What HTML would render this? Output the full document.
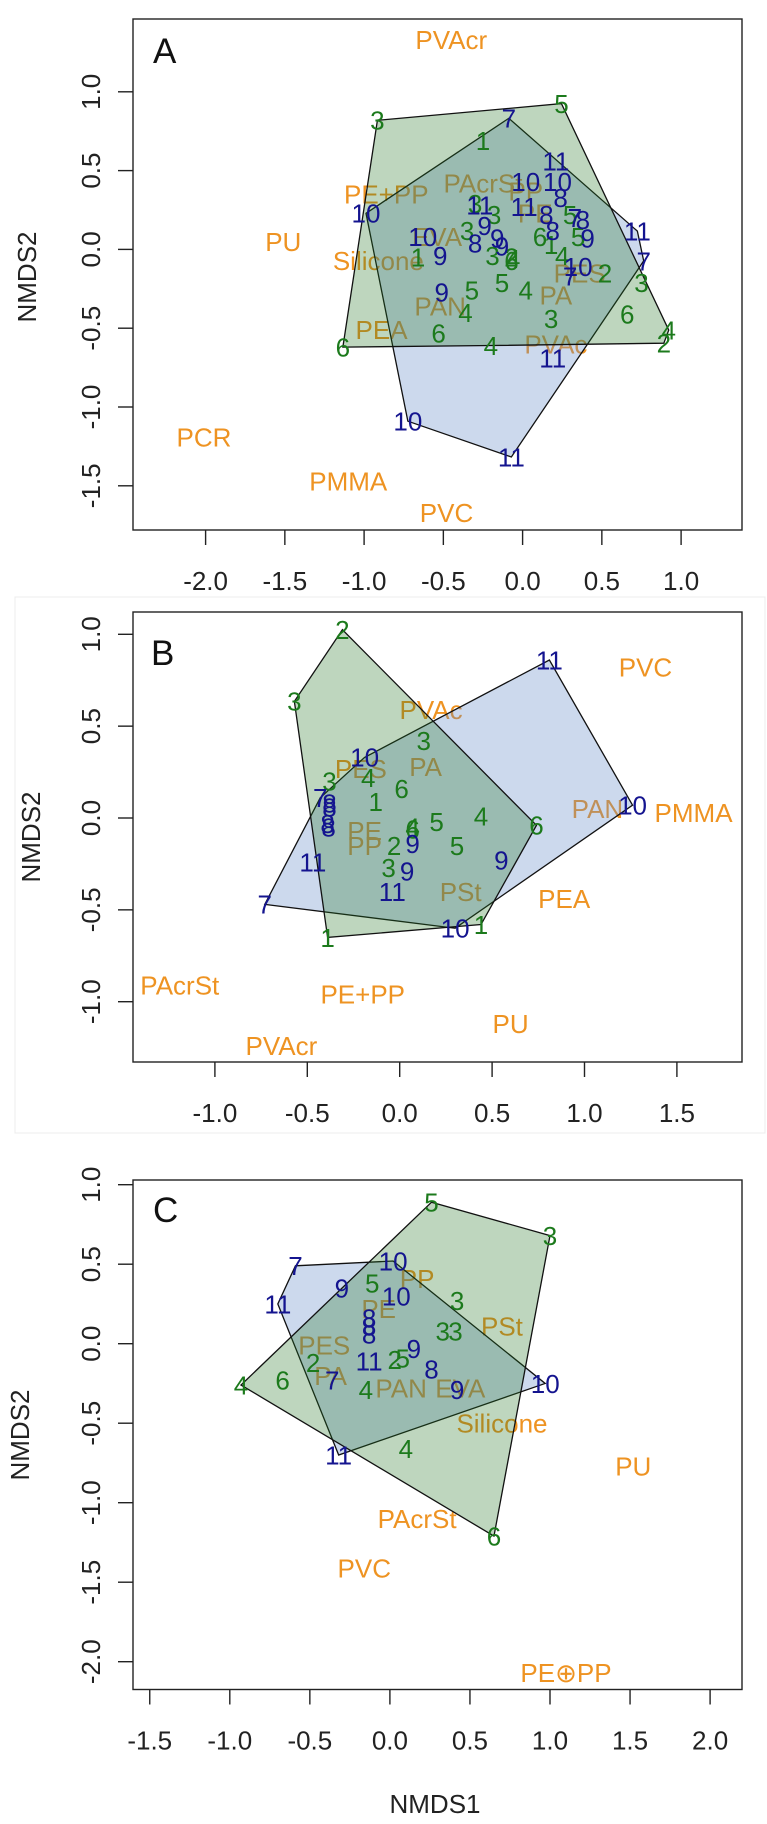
<!DOCTYPE html>
<html><head><meta charset="utf-8"><style>
body{margin:0;background:#fff}
svg text{font-family:"Liberation Sans",Arial,sans-serif}
</style></head><body>
<svg id="chart" xmlns="http://www.w3.org/2000/svg" width="767" height="1819" viewBox="0 0 767 1819">
<rect x="15" y="597" width="750" height="536" fill="none" stroke="#ececec" stroke-width="1"/>
</svg>
<script>
// ---------- Panel A data ----------
const A_xTicks=[-2.0,-1.5,-1.0,-0.5,0.0,0.5,1.0];
const A_yTicks=[-1.5,-1.0,-0.5,0.0,0.5,1.0];
const A_lab=["PVAcr","PE+PP","PAcrSt","PP","PU","Silicone","EVA","PE","PES","PA","PAN","PEA","PVAc","PCR","PMMA","PVC"];
const A_labX=[-0.45,-0.86,-0.25,0.02,-1.51,-0.91,-0.54,0.08,0.36,0.21,-0.52,-0.89,0.21,-2.01,-1.10,-0.48];
const A_labY=[1.33,0.35,0.42,0.37,0.05,-0.07,0.08,0.23,-0.15,-0.29,-0.36,-0.51,-0.60,-1.19,-1.47,-1.67];
const A_gT=["3","5","1","3","3","3","1","3","2","4","6","6","1","4","5","5","2","3","6","4","2","5","5","4","4","3","6","4","6"];
const A_gX=[-0.916,0.245,-0.25,-0.30,-0.18,-0.35,-0.66,-0.19,-0.07,-0.06,-0.07,0.11,0.18,0.25,0.35,0.30,0.52,0.75,0.66,0.922,0.891,-0.32,-0.13,0.02,-0.36,0.18,-0.53,-0.20,-1.134];
const A_gY=[0.819,0.925,0.69,0.29,0.22,0.12,-0.05,-0.04,-0.05,-0.06,-0.07,0.08,0.03,-0.04,0.08,0.22,-0.15,-0.21,-0.41,-0.512,-0.595,-0.26,-0.21,-0.26,-0.40,-0.44,-0.53,-0.61,-0.620];
const A_bT=["7","11","10","10","10","11","11","8","8","8","7","9","9","9","8","9","10","8","9","10","7","11","7","9","11","10","11"];
const A_bX=[-0.087,0.21,0.02,0.22,-0.988,-0.27,0.01,0.15,0.24,0.38,0.33,-0.24,-0.16,-0.13,0.19,0.41,-0.63,-0.30,-0.52,0.35,0.30,0.724,0.764,-0.51,0.19,-0.724,-0.071];
const A_bY=[0.832,0.56,0.43,0.43,0.229,0.28,0.27,0.22,0.33,0.19,0.20,0.15,0.07,0.02,0.12,0.07,0.08,0.04,-0.04,-0.11,-0.17,0.116,-0.073,-0.27,-0.69,-1.090,-1.317];
// ---------- Panel B data ----------
const B_xTicks=[-1.0,-0.5,0.0,0.5,1.0,1.5];
const B_yTicks=[-1.0,-0.5,0.0,0.5,1.0];
const B_lab=["PVC","PVAc","PES","PA","PAN","PMMA","PE","PP","PSt","PEA","PAcrSt","PE+PP","PU","PVAcr"];
const B_labX=[1.33,0.17,-0.21,0.14,1.07,1.59,-0.19,-0.19,0.33,0.89,-1.19,-0.20,0.60,-0.64];
const B_labY=[0.82,0.59,0.27,0.28,0.05,0.03,-0.07,-0.15,-0.40,-0.44,-0.91,-0.96,-1.12,-1.24];
const B_gT=["2","3","3","4","3","6","1","5","4","4","6","2","5","3","6","1","1"];
const B_gX=[-0.31,-0.57,0.13,-0.17,-0.38,0.01,-0.13,0.20,0.44,0.07,0.07,-0.03,0.31,-0.06,0.74,0.44,-0.39];
const B_gY=[1.025,0.635,0.42,0.22,0.20,0.16,0.09,-0.02,0.01,-0.05,-0.06,-0.15,-0.15,-0.27,-0.04,-0.58,-0.65];
const B_bT=["11","10","7","8","8","8","8","9","9","9","11","11","10","7","10"];
const B_bX=[0.81,-0.19,-0.43,-0.38,-0.38,-0.39,-0.385,0.07,0.04,0.55,-0.47,-0.04,0.30,-0.73,1.26];
const B_bY=[0.86,0.33,0.11,0.08,0.06,-0.03,-0.05,-0.14,-0.29,-0.23,-0.24,-0.40,-0.60,-0.47,0.07];
// ---------- Panel C data ----------
const C_xTicks=[-1.5,-1.0,-0.5,0.0,0.5,1.0,1.5,2.0];
const C_yTicks=[-2.0,-1.5,-1.0,-0.5,0.0,0.5,1.0];
const C_lab=["PP","PE","PSt","PES","PA","PAN","EVA","Silicone","PU","PAcrSt","PVC","PE⊕PP"];
const C_labX=[0.17,-0.07,0.70,-0.41,-0.37,0.07,0.44,0.70,1.52,0.17,-0.16,1.10];
const C_labY=[0.41,0.22,0.11,-0.01,-0.20,-0.28,-0.28,-0.50,-0.77,-1.10,-1.41,-2.07];
const C_gT=["5","3","5","3","3","3","2","6","2","5","4","4","4","6"];
const C_gX=[0.26,1.00,-0.11,0.42,0.33,0.41,-0.48,-0.67,0.03,0.08,-0.15,-0.93,0.10,0.65];
const C_gY=[0.89,0.68,0.38,0.27,0.08,0.08,-0.12,-0.23,-0.10,-0.09,-0.29,-0.26,-0.66,-1.21];
const C_bT=["7","10","9","10","11","8","8","8","11","9","8","7","9","10","11"];
const C_bX=[-0.59,0.02,-0.30,0.04,-0.70,-0.13,-0.13,-0.13,-0.13,0.15,0.26,-0.36,0.42,0.97,-0.32];
const C_bY=[0.49,0.52,0.35,0.30,0.25,0.16,0.11,0.06,-0.11,-0.03,-0.16,-0.23,-0.29,-0.25,-0.70];

const FS=26;
const NS="http://www.w3.org/2000/svg";
const svg=document.getElementById('chart');
function mk(tag,attrs,parent){const e=document.createElementNS(NS,tag);for(const k in attrs)e.setAttribute(k,attrs[k]);(parent||svg).appendChild(e);return e;}
function hull(xs,ys){
  const p=xs.map((x,i)=>[x,ys[i]]).sort((a,b)=>a[0]-b[0]||a[1]-b[1]);
  const cr=(o,a,b)=>(a[0]-o[0])*(b[1]-o[1])-(a[1]-o[1])*(b[0]-o[0]);
  const lo=[],up=[];
  for(const q of p){while(lo.length>=2&&cr(lo[lo.length-2],lo[lo.length-1],q)<=0)lo.pop();lo.push(q);}
  for(let i=p.length-1;i>=0;i--){const q=p[i];while(up.length>=2&&cr(up[up.length-2],up[up.length-1],q)<=0)up.pop();up.push(q);}
  up.pop();lo.pop();return lo.concat(up);
}
function panel(c){
  const X=v=>c.x0+c.ux*v, Y=v=>c.y0-c.uy*v;
  const g=mk('g',{});
  
  
  c.lab.forEach((t,i)=>{
    const e=mk('text',{x:X(c.labX[i]),y:Y(c.labY[i]),'text-anchor':'middle',dy:'0.36em','font-size':FS,fill:'#ee9322'},g);
    e.textContent=t;
    
    
  });
  const hb=hull(c.bX,c.bY), hg=hull(c.gX,c.gY);
  const pb=mk('polygon',{points:hb.map(p=>X(p[0])+','+Y(p[1])).join(' '),fill:'rgba(100,140,200,0.33)',stroke:'#111','stroke-width':1.3},g);
  
  
  const pg=mk('polygon',{points:hg.map(p=>X(p[0])+','+Y(p[1])).join(' '),fill:'rgba(40,120,40,0.3)',stroke:'#111','stroke-width':1.3},g);
  
  
  c.gT.forEach((t,i)=>{
    const e=mk('text',{x:X(c.gX[i]),y:Y(c.gY[i]),'text-anchor':'middle',dy:'0.36em','font-size':FS,fill:'#1c7a1c'},g);
    e.textContent=t;
    
    
  });
  c.bT.forEach((t,i)=>{
    const e=mk('text',{x:X(c.bX[i]),y:Y(c.bY[i]),'text-anchor':'middle',dy:'0.36em','font-size':FS,fill:'#14148f'},g);
    e.textContent=t;
    
    
  });
  const fr=mk('rect',{x:133,y:c.top,width:609,height:c.bot-c.top,fill:'none',stroke:'#222','stroke-width':1.4},g);
  
  
  c.xt.forEach(v=>{
    const l=mk('line',{x1:X(v),x2:X(v),y1:c.bot,y2:c.bot+15,stroke:'#222','stroke-width':1.4},g);
    
    
    const t=mk('text',{x:X(v),y:c.bot+60,'text-anchor':'middle','font-size':FS,fill:'#222'},g);
    t.textContent=v.toFixed(1);
    
    
  });
  c.yt.forEach(v=>{
    const l=mk('line',{x1:118,x2:133,y1:Y(v),y2:Y(v),stroke:'#222','stroke-width':1.4},g);
    
    
    const t=mk('text',{x:0,y:0,'text-anchor':'middle','font-size':FS,fill:'#222',transform:`translate(100,${Y(v)}) rotate(-90)`},g);
    t.textContent=v.toFixed(1);
    
    
  });
  const yt=mk('text',{x:0,y:0,'text-anchor':'middle','font-size':FS,fill:'#222',transform:`translate(${c.ytx},${c.yty}) rotate(-90)`},g);
  yt.textContent='NMDS2';
  
  
  const pl=mk('text',{x:c.lx,y:c.ly,'font-size':35,fill:'#111'},g);
  pl.textContent=c.id.toUpperCase();
  
  
}
panel({id:'a',x0:522.6,ux:158.5,y0:249.4,uy:157.6,top:19,bot:530,xt:A_xTicks,yt:A_yTicks,lab:A_lab,labX:A_labX,labY:A_labY,gT:A_gT,gX:A_gX,gY:A_gY,bT:A_bT,bX:A_bX,bY:A_bY,ytx:36,yty:277,lx:153,ly:63});
panel({id:'b',x0:399.7,ux:184.8,y0:818,uy:183.7,top:612,bot:1062,xt:B_xTicks,yt:B_yTicks,lab:B_lab,labX:B_labX,labY:B_labY,gT:B_gT,gX:B_gX,gY:B_gY,bT:B_bT,bX:B_bX,bY:B_bY,ytx:40,yty:837,lx:151,ly:665});
panel({id:'c',x0:389.9,ux:160.1,y0:1343.7,uy:159,top:1180,bot:1689.5,xt:C_xTicks,yt:C_yTicks,lab:C_lab,labX:C_labX,labY:C_labY,gT:C_gT,gX:C_gX,gY:C_gY,bT:C_bT,bX:C_bX,bY:C_bY,ytx:29,yty:1435,lx:153,ly:1222});
const xt=mk('text',{x:435,y:1813,'text-anchor':'middle','font-size':FS,fill:'#222'});
xt.textContent='NMDS1';


</script>
</body></html>
